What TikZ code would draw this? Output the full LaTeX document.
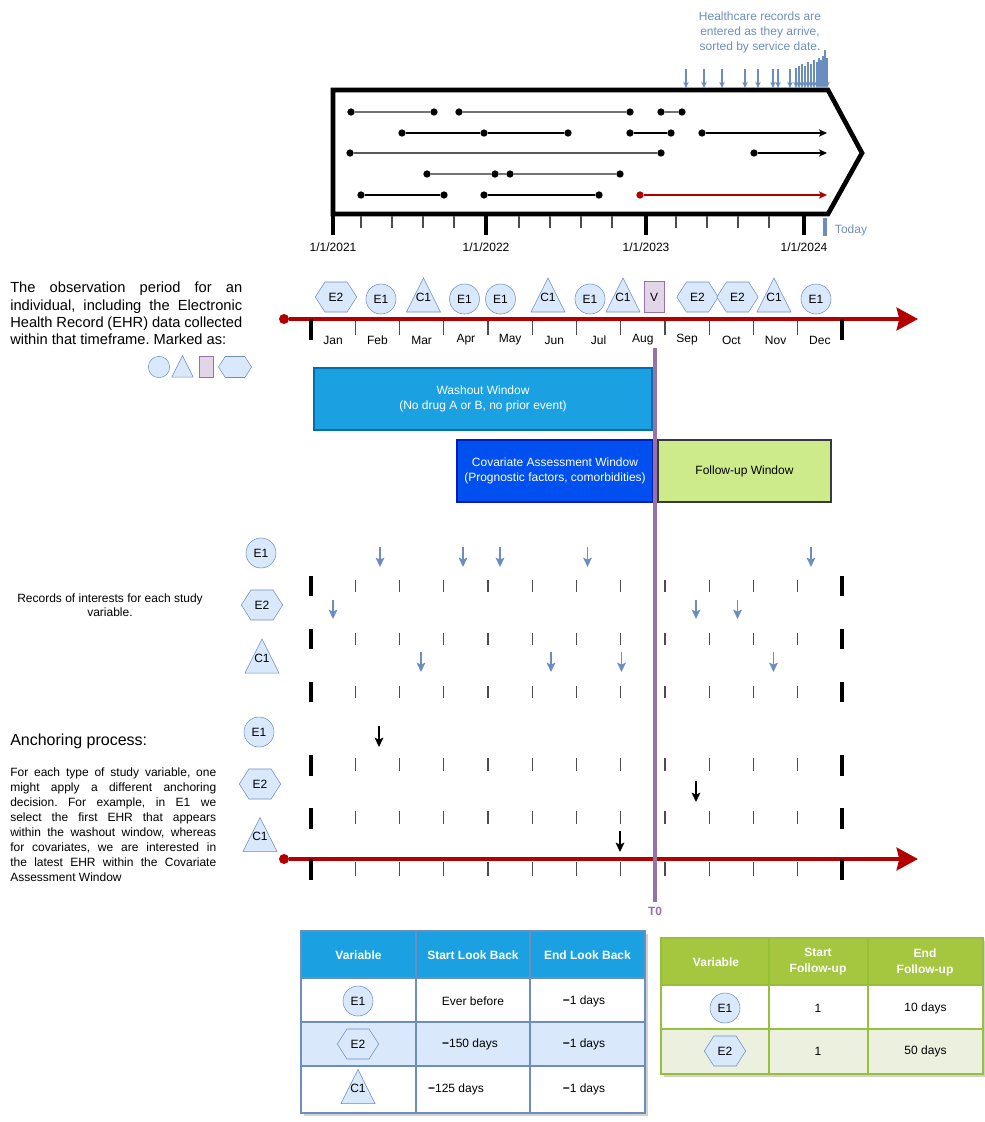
\documentclass[tikz,border=0pt]{standalone}
\usepackage{fontspec}
\setmainfont{Liberation Sans}
\usepackage{tikz}
\usetikzlibrary{arrows.meta,shapes.geometric,shapes.symbols}
\frenchspacing

\definecolor{shapeblue}{HTML}{DAE8FC}
\definecolor{shapeline}{HTML}{6C8EBF}
\definecolor{vfill}{HTML}{E1D5E7}
\definecolor{vline}{HTML}{9673A6}
\definecolor{tred}{HTML}{B20000}
\definecolor{washfill}{HTML}{1BA1E2}
\definecolor{washline}{HTML}{006EAF}
\definecolor{covfill}{HTML}{0050EF}
\definecolor{covline}{HTML}{001DBC}
\definecolor{fufill}{HTML}{CDEB8B}
\definecolor{fuline}{HTML}{36393D}
\definecolor{hdgreen}{HTML}{A4C73F}
\definecolor{rowgreen}{HTML}{EBF1DE}
\definecolor{greenline}{HTML}{98BF3A}

\begin{document}
\begin{tikzpicture}[x=0.75pt,y=-0.75pt,
    every node/.style={font=\fontsize{9}{11.25}\selectfont},
    dot/.style={circle, fill=black, inner sep=0pt, minimum size=5.5pt},
    evcircle/.style={circle, draw=shapeline, fill=shapeblue, inner sep=0pt, minimum size=22.5pt},
    evhex/.style={signal, signal to=east and west, signal pointer angle=115, draw=shapeline, fill=shapeblue, inner sep=0pt, minimum width=31pt, minimum height=22.5pt},
    evtri/.style={isosceles triangle, isosceles triangle stretches, shape border rotate=90, draw=shapeline, fill=shapeblue, inner sep=0pt, minimum width=25.5pt, minimum height=25.5pt, label={[yshift=3.4pt]center:#1}},
    evrect/.style={rectangle, draw=vline, fill=vfill, inner sep=0pt, minimum width=15pt, minimum height=23pt},
    window/.style={rectangle, align=center, inner sep=0pt, line width=0.8pt, minimum height=46.5pt},
    majortick/.style={line width=3pt},
    minortick/.style={line width=0.8pt, black!70},
    rowline/.style={line width=1pt},
    rowarrow/.style={rowline, -{Stealth[length=6pt,width=5.5pt,inset=1.5pt]}},
    blueflag/.style={shapeline, line width=0.8pt, -{Stealth[length=4.5pt,width=4pt,inset=1pt]}},
    recarrow/.style={shapeline, line width=1.2pt, -{Stealth[length=7pt,width=6.5pt,inset=1.5pt]}},
    anchorarrow/.style={black, line width=1.2pt, -{Stealth[length=7pt,width=6.5pt,inset=1.5pt]}},
    timeline/.style={tred, line width=3pt, -{Stealth[length=16pt,width=17pt,inset=2pt]}},
    reddot/.style={circle, fill=tred, inner sep=0pt, minimum size=7.5pt},
    hdtext/.style={text=white, font=\fontsize{9}{12}\selectfont\bfseries, align=center}]
\useasboundingbox (0,0) rectangle (985,1122);

% --- records database (top) ---
\node[align=center, text=shapeline] (hrec) at (760,32) {Healthcare records are\\entered as they arrive,\\sorted by service date.};
\foreach \x/\t [count=\i] in {686/69,704/69,722/69,745/69,758/69,773/69,778/69,790/69,796/68,799/66,802/64,805/66,808/62,811/64,814/60,817/62,819/58,821/60,823/56,825/50,827/58} {
  \coordinate (fa\i) at (\x,\t);
  \coordinate (fb\i) at (\x,88);
  \draw[blueflag] (fa\i) -- (fb\i);
}
\draw[line width=3.5pt, line join=miter] (333,90) -- (828,90) -- (862,153) -- (828,214) -- (333,214) -- cycle;
\foreach \x in {333,486,646,804} \draw[majortick, line width=3.5pt] (\x,214) -- (\x,235);
\foreach \x in {361,392,423,454,519,550,581,612,676,707,738,769} \draw[minortick] (\x,216) -- (\x,228);
\draw[shapeline, line width=2.5pt] (825,218) -- (825,236);
\node (y21) at (333,247) {1/1/2021};
\node (y22) at (486,247) {1/1/2022};
\node (y23) at (646,247) {1/1/2023};
\node (y24) at (804,247) {1/1/2024};
\node[text=shapeline] (today) at (851,230) {Today};

% row 1
\node[dot] (a1) at (351,112) {};
\node[dot] (a2) at (434,112) {};
\node[dot] (a3) at (459,112) {};
\node[dot] (a4) at (630,112) {};
\node[dot] (a5) at (661,112) {};
\node[dot] (a6) at (682,112) {};
\draw[rowline, black!55] (a1) -- (a2) (a3) -- (a4) (a5) -- (a6);
% row 2
\node[dot] (b1) at (402,133) {};
\node[dot] (b2) at (484,133) {};
\node[dot] (b3) at (568,133) {};
\node[dot] (b4) at (630,133) {};
\node[dot] (b5) at (671,133) {};
\node[dot] (b6) at (702,133) {};
\coordinate (b7) at (827,133);
\draw[rowline] (b1) -- (b2) -- (b3) (b4) -- (b5);
\draw[rowarrow] (b6) -- (b7);
% row 3
\node[dot] (c1) at (350,153) {};
\node[dot] (c2) at (661,153) {};
\node[dot] (c3) at (754,153) {};
\coordinate (c7) at (827,153);
\draw[rowline, black!65] (c1) -- (c2);
\draw[rowarrow] (c3) -- (c7);
% row 4
\node[dot] (d1) at (427,174) {};
\node[dot] (d2) at (495,174) {};
\node[dot] (d3) at (510,174) {};
\node[dot] (d4) at (620,174) {};
\draw[rowline, black!55] (d1) -- (d2) -- (d3) -- (d4);
% row 5
\node[dot] (e1) at (361,195) {};
\node[dot] (e2) at (444,195) {};
\node[dot] (e3) at (484,195) {};
\node[dot] (e4) at (599,195) {};
\node[dot, fill=tred] (e5) at (640,195) {};
\coordinate (e7) at (827,195);
\draw[rowline] (e1) -- (e2) (e3) -- (e4);
\draw[rowarrow, tred] (e5) -- (e7);

% --- observation period ---
\node[anchor=north west, text width=174pt, align=justify, inner sep=0pt, font=\fontsize{11}{13}\selectfont] (obstext) at (10,282)
  {The observation period for an\linebreak individual, including the Electronic\linebreak Health Record (EHR) data collected\linebreak within that timeframe. Marked as:};
\node[evcircle, minimum size=16pt] (lgc) at (159,367) {};
\node[evtri={}, minimum width=16pt, minimum height=16pt] (lgt) at (182.5,370.5) {};
\node[evrect, minimum width=10.5pt, minimum height=15.75pt] (lgr) at (206,367) {};
\node[evhex, minimum width=24.75pt, minimum height=15.75pt] (lgh) at (235,367) {};

\node[reddot] (obsstart) at (284,319) {};
\coordinate (obsend) at (918,319);
\draw[timeline] (obsstart) -- (obsend);
\draw[majortick] (311,319) -- (311,340);
\draw[majortick] (842,319) -- (842,340);
\foreach \k in {1,...,11} \draw[minortick] ({311+44.25*\k},321) -- ({311+44.25*\k},335);
\foreach \m [count=\i] in {Jan,Feb,Mar,Apr,May,Jun,Jul,Aug,Sep,Oct,Nov,Dec}
  \node (m\i) at ({311+44.25*(\i-0.5)},340) {\m};

\node[evhex] (o1) at (336,297) {E2};
\node[evcircle] (o2) at (381,299) {E1};
\node[evtri=C1] (o3) at (423.5,301.5) {};
\node[evcircle] (o4) at (464.5,299) {E1};
\node[evcircle] (o5) at (500.5,299) {E1};
\node[evtri=C1] (o6) at (548,301.5) {};
\node[evcircle] (o7) at (590,299) {E1};
\node[evtri=C1] (o8) at (623,301.5) {};
\node[evrect] (o9) at (654,297) {V};
\node[evhex] (o10) at (697.5,297) {E2};
\node[evhex] (o11) at (737.5,297) {E2};
\node[evtri=C1] (o12) at (774,301.5) {};
\node[evcircle] (o13) at (816,299) {E1};

% --- windows ---
\node[window, fill=washfill, draw=washline, text=white, minimum width=253.5pt] (wash) at (483,399) {Washout Window\\(No drug A or B, no prior event)};
\node[window, fill=covfill, draw=covline, text=white, minimum width=147pt] (cov) at (555,471) {Covariate Assessment Window\\(Prognostic factors, comorbidities)};
\node[window, fill=fufill, draw=fuline, minimum width=129.75pt] (fu) at (744.5,471) {Follow-up Window};

% --- records of interest ---
\node[align=center, font=\fontsize{9}{10.5}\selectfont] (recnote) at (110,605) {Records of interests for each study\\variable.};
\node[evcircle] (re1) at (261,553) {E1};
\node[evhex] (re2) at (262,605) {E2};
\node[evtri=C1] (rc1) at (262,662.5) {};
\foreach \y in {576,629,682} {
  \draw[majortick] (311,\y) -- (311,\y+20);
  \draw[majortick] (842,\y) -- (842,\y+20);
  \foreach \k in {1,...,11} \draw[minortick] ({311+44.25*\k},\y+4) -- ({311+44.25*\k},\y+16);
}
\foreach \x [count=\i] in {380,463,500,587.5,811} {
  \coordinate (ea\i) at (\x,547); \coordinate (eb\i) at (\x,567);
  \draw[recarrow] (ea\i) -- (eb\i);
}
\foreach \x [count=\i] in {333,696,737.5} {
  \coordinate (ha\i) at (\x,600); \coordinate (hb\i) at (\x,619);
  \draw[recarrow] (ha\i) -- (hb\i);
}
\foreach \x [count=\i] in {421,551,621.5,773.5} {
  \coordinate (ca\i) at (\x,652); \coordinate (cb\i) at (\x,672);
  \draw[recarrow] (ca\i) -- (cb\i);
}

% --- anchoring ---
\node[anchor=west, inner sep=0pt, font=\fontsize{12}{14}\selectfont] (anchtitle) at (10,741) {Anchoring process:};
\node[anchor=north west, text width=154.5pt, align=justify, inner sep=0pt] (anchtext) at (10,768)
  {For each type of study variable, one\linebreak might apply a different anchoring\linebreak decision. For example, in E1 we\linebreak select the first EHR that appears\linebreak within the washout window, whereas\linebreak for covariates, we are interested in\linebreak the latest EHR within the Covariate\linebreak Assessment Window};
\node[evcircle] (ae1) at (259,732) {E1};
\node[evhex] (ae2) at (260,784) {E2};
\node[evtri=C1] (ac1) at (260,841) {};
\foreach \y in {755,808} {
  \draw[majortick] (311,\y) -- (311,\y+21);
  \draw[majortick] (842,\y) -- (842,\y+21);
  \foreach \k in {1,...,11} \draw[minortick] ({311+44.25*\k},\y+3) -- ({311+44.25*\k},\y+16);
}
\node[reddot] (anstart) at (284,859) {};
\coordinate (anend) at (918,859);
\draw[timeline] (anstart) -- (anend);
\draw[majortick] (311,859) -- (311,880);
\draw[majortick] (842,859) -- (842,880);
\foreach \k in {1,...,11} \draw[minortick] ({311+44.25*\k},862) -- ({311+44.25*\k},876);
\coordinate (pa1) at (379,726); \coordinate (pb1) at (379,747);
\coordinate (pa2) at (696,781); \coordinate (pb2) at (696,802);
\coordinate (pa3) at (620,831); \coordinate (pb3) at (620,852);
\draw[anchorarrow] (pa1) -- (pb1);
\draw[anchorarrow] (pa2) -- (pb2);
\draw[anchorarrow] (pa3) -- (pb3);

% --- index date ---
\coordinate (t0top) at (655,348);
\node[text=vline, font=\fontsize{9}{11}\selectfont\bfseries] (t0) at (655,911) {T0};
\draw[vline, line width=3pt] (t0top) -- (t0.north);

% --- look back table ---
\fill[black!18] (304,934) rectangle (648,1116);
\fill[washfill] (301,931) rectangle (645,978);
\fill[white] (301,978) rectangle (645,1022);
\fill[shapeblue] (301,1022) rectangle (645,1066);
\fill[white] (301,1066) rectangle (645,1113);
\draw[shapeline, line width=0.8pt] (301,931) rectangle (645,1113);
\foreach \y in {978,1022,1066} \draw[shapeline, line width=0.8pt] (301,\y) -- (645,\y);
\foreach \x in {416,530} \draw[shapeline, line width=0.8pt] (\x,931) -- (\x,1113);
\node[hdtext] (lbh1) at (358.5,955) {Variable};
\node[hdtext] (lbh2) at (473,955) {Start Look Back};
\node[hdtext] (lbh3) at (587.5,955) {End Look Back};
\node[evcircle] (lbe1) at (358,1001) {E1};
\node (lba1) at (473,1001) {Ever before};
\node (lbb1) at (584,1001) {\textbf{−}1 days};
\node[evhex] (lbe2) at (358,1044) {E2};
\node (lba2) at (470,1044) {\textbf{−}150 days};
\node (lbb2) at (584,1044) {\textbf{−}1 days};
\node[evtri=C1] (lbc1) at (358,1093) {};
\node (lba3) at (456,1089) {\textbf{−}125 days};
\node (lbb3) at (584,1089) {\textbf{−}1 days};

% --- follow-up table ---
\fill[black!18] (664,941) rectangle (986,1077);
\fill[hdgreen] (661,938) rectangle (983,985);
\fill[white] (661,985) rectangle (983,1029);
\fill[rowgreen] (661,1029) rectangle (983,1074);
\draw[greenline, line width=0.8pt] (661,938) rectangle (983,1074);
\foreach \y in {985,1029} \draw[greenline, line width=0.8pt] (661,\y) -- (983,\y);
\foreach \x in {769,868} \draw[greenline, line width=0.8pt] (\x,938) -- (\x,1074);
\node[hdtext] (fuh1) at (716,962) {Variable};
\node[hdtext] (fuh2) at (818,962) {Start\\Follow-up};
\node[hdtext] (fuh3) at (925,962) {End\\Follow-up};
\node[evcircle] (fue1) at (725,1008) {E1};
\node (fua1) at (818,1008) {1};
\node (fub1) at (925.5,1008) {10 days};
\node[evhex] (fue2) at (725,1051) {E2};
\node (fua2) at (818,1051) {1};
\node (fub2) at (925.5,1051) {50 days};

\end{tikzpicture}
\end{document}
